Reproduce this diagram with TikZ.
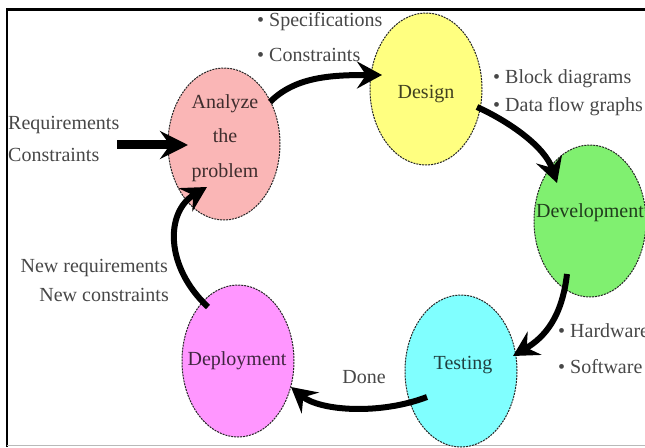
\documentclass[tikz,border=0pt]{standalone}
\usepackage{fontspec}
\setmainfont{Liberation Serif}
\usetikzlibrary{arrows.meta,shapes.geometric,calc}
\definecolor{anaC}{RGB}{250,182,182}
\definecolor{desC}{RGB}{255,255,128}
\definecolor{devC}{RGB}{128,240,112}
\definecolor{tstC}{RGB}{128,255,255}
\definecolor{depC}{RGB}{255,150,255}
\tikzset{
  stage/.style={ellipse, minimum width=112pt, minimum height=152pt, inner sep=0pt,
    draw=black!85, dash pattern=on 2pt off 1pt, line width=1pt},
  stagetext/.style={font=\fontsize{20}{34.5}\selectfont, align=center, inner sep=0pt},
  flow/.style={line width=6pt, -{Stealth[length=25pt,width=27pt,inset=9pt]}},
  bigflow/.style={line width=9pt, -{Stealth[length=28pt,width=28pt,inset=10pt]}},
  lbl/.style={font=\fontsize{20}{24}\selectfont, text=black!72, inner sep=0pt},
}
\begin{document}
\begin{tikzpicture}[x=1pt,y=1pt]
\useasboundingbox (0,0) rectangle (645,447);
\clip (0,0) rectangle (645,447);
% frame
\draw[line width=2.5pt] (7,0) -- (7,437.5) -- (645,437.5);
\draw[gray!55, line width=1.2pt] (7,1.3) -- (645,1.3);
% stages
\node[stage, fill=anaC] (ana) at (224,303) {};
\node[stage, fill=desC] (des) at (426,358) {};
\node[stage, fill=devC] (dev) at (590,226) {};
\node[stage, fill=tstC] (tst) at (461,76) {};
\node[stage, fill=depC] (dep) at (238,86) {};
\node[stagetext, text=anaC!25!black] (anaT) at ($(ana)+(1,6)$) {Analyze\\the\\problem};
\node[stagetext, text=desC!25!black] (desT) at ($(des)+(0,-5)$) {Design};
\node[stagetext, text=devC!25!black] (devT) at ($(dev)+(0,8)$) {Development};
\node[stagetext, text=tstC!25!black] (tstT) at ($(tst)+(2,6)$) {Testing};
\node[stagetext, text=depC!25!black] (depT) at ($(dep)+(-1,0)$) {Deployment};
% labels
\node[lbl, anchor=base west] (spec) at (257,420) {\textbullet\ Specifications};
\node[lbl, anchor=base west] (cons) at (257,385) {\textbullet\ Constraints};
\node[lbl, anchor=base west] (blk) at (493,363) {\textbullet\ Block diagrams};
\node[lbl, anchor=base west] (dfg) at (493,335) {\textbullet\ Data flow graphs};
\node[lbl, anchor=base west] (reqT) at (8,317) {Requirements};
\node[lbl, anchor=base west] (conT) at (8,285) {Constraints};
\node[lbl, anchor=base east] (newR) at (168,174) {New requirements};
\node[lbl, anchor=base east] (newC) at (169,145) {New constraints};
\node[lbl, anchor=base] (done) at (364,63) {Done};
\node[lbl, anchor=base west] (hw) at (558,109) {\textbullet\ Hardware};
\node[lbl, anchor=base west] (sw) at (558,73) {\textbullet\ Software};
% connectors
\coordinate (req) at (117,302);
\draw[bigflow] (req) -- ($(ana)+(-36,-1)$);
\draw[flow] ($(ana)+(46,42)$) .. controls ($(ana)+(71,67)$) and ($(des)+(-96,14)$) .. ($(des)+(-44,14)$);
\draw[flow] ($(des)+(51,-18)$) .. controls ($(des)+(84,-33)$) and ($(dev)+(-45,74)$) .. ($(dev)+(-33,38)$);
\draw[flow] ($(dev)+(-23,-53)$) .. controls ($(dev)+(-28,-96)$) and ($(tst)+(84,34)$) .. ($(tst)+(52,15)$);
\draw[flow] ($(tst)+(-34,-26)$) .. controls ($(tst)+(-81,-44)$) and ($(dep)+(82,-50)$) .. ($(dep)+(53,-26)$);
\draw[flow] ($(dep)+(-30,54)$) .. controls ($(dep)+(-73,94)$) and ($(ana)+(-59,-68)$) .. ($(ana)+(-17,-43)$);
\end{tikzpicture}
\end{document}
